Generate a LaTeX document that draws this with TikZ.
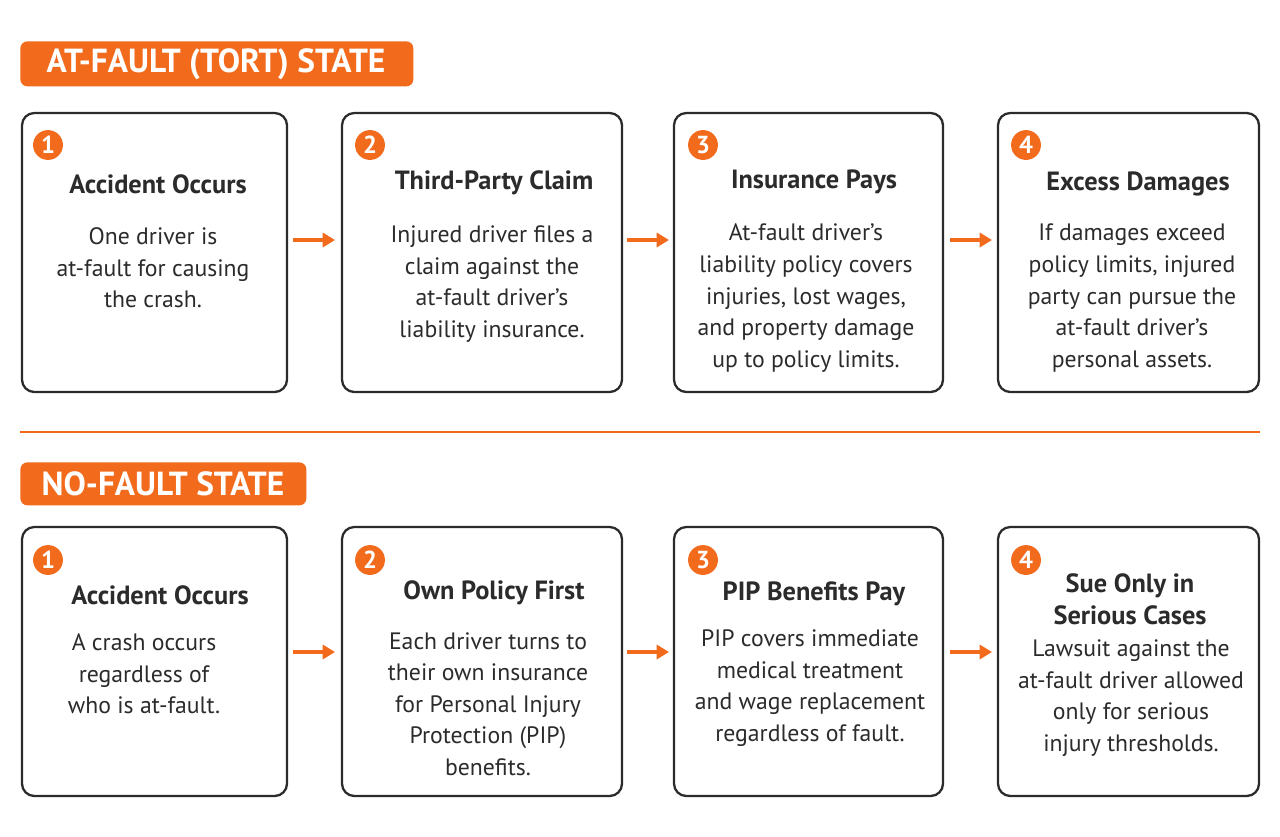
\documentclass[tikz,border=0pt]{standalone}
\usepackage{fontspec}
\setmainfont{PT Sans}
\usetikzlibrary{arrows.meta}
\definecolor{org}{HTML}{F26B1D}
\definecolor{dk}{HTML}{2B2B2B}
\begin{document}
\begin{tikzpicture}[x=0.02cm,y=-0.02cm,
  hdr/.style={fill=org,rounded corners=4pt,text=white,inner sep=0pt,anchor=north west},
  hdt/.style={font=\fontsize{19}{22}\selectfont\bfseries,text=white},
  box/.style={draw=dk,line width=1.3pt,rounded corners=7pt},
  num/.style={circle,fill=org,text=white,inner sep=0pt,minimum size=17pt,font=\fontsize{14}{14}\selectfont\bfseries},
  ttl/.style={font=\fontsize{15}{17}\selectfont\bfseries,text=dk,align=center},
  bod/.style={font=\fontsize{13.5}{18}\selectfont,text=dk,align=center},
  arr/.style={-{Triangle[length=7pt,width=8pt]},org,line width=2.2pt}]
\useasboundingbox (0,0) rectangle (1280,836);
\fill[white] (0,0) rectangle (1280,836);
\node[hdr,minimum width=393*0.02cm,minimum height=45*0.02cm] (h1) at (20,41) {};
\node[hdt] (h1t) at (216,64) {AT-FAULT (TORT) STATE};
\node[hdr,minimum width=286*0.02cm,minimum height=43*0.02cm] (h2) at (20,462) {};
\node[hdt] (h2t) at (163,484) {NO-FAULT STATE};
\coordinate (dl) at (20,432); \coordinate (dr) at (1260,432);
\draw[org,line width=1pt] (dl)--(dr);
\foreach \i/\a/\b in {1/22/287,2/342/622,3/674/943,4/998/1259}{
  \draw[box] (\a,113) rectangle (\b,392);
  \draw[box] (\a,527) rectangle (\b,796);
}
\node[num] (n11) at (48,145) {1};
\node[num] (n12) at (370,145) {2};
\node[num] (n13) at (703,145) {3};
\node[num] (n14) at (1026,145) {4};
\node[num] (n21) at (48,560) {1};
\node[num] (n22) at (370,560) {2};
\node[num] (n23) at (703,560) {3};
\node[num] (n24) at (1026,560) {4};
\node[ttl] (t11) at (158,184) {Accident Occurs};
\node[ttl] (t12) at (494,183) {Third-Party Claim};
\node[ttl] (t13) at (814,182) {Insurance Pays};
\node[ttl] (t14) at (1138,184) {Excess Damages};
\node[bod] (b11) at (153,268) {One driver is\\at-fault for causing\\the crash.};
\node[bod] (b12) at (492,284) {Injured driver files a\\claim against the\\at-fault driver’s\\liability insurance.};
\node[bod] (b13) at (806,298) {At-fault driver’s\\liability policy covers\\injuries, lost wages,\\and property damage\\up to policy limits.};
\node[bod] (b14) at (1132,298) {If damages exceed\\policy limits, injured\\party can pursue the\\at-fault driver’s\\personal assets.};
\node[ttl] (t21) at (160,595) {Accident Occurs};
\node[ttl] (t22) at (494,593) {Own Policy First};
\node[ttl] (t23) at (814,594) {PIP Benefits Pay};
\node[ttl,font=\fontsize{15}{18}\selectfont\bfseries] (t24) at (1130,599) {Sue Only in\\Serious Cases};
\node[bod] (b21) at (144,674) {A crash occurs\\regardless of\\who is at-fault.};
\node[bod] (b22) at (488,704) {Each driver turns to\\their own insurance\\for Personal Injury\\Protection (PIP)\\benefits.};
\node[bod] (b23) at (810,688) {PIP covers immediate\\medical treatment\\and wage replacement\\regardless of fault.};
\node[bod] (b24) at (1131,698) {Lawsuit against the\\at-fault driver allowed\\only for serious\\injury thresholds.};
\foreach \y/\r in {240/1,652/2}{
 \coordinate (a1\r) at (293,\y); \coordinate (a2\r) at (335,\y);
 \coordinate (c1\r) at (627,\y); \coordinate (c2\r) at (669,\y);
 \coordinate (e1\r) at (950,\y); \coordinate (e2\r) at (992,\y);
 \draw[arr] (a1\r)--(a2\r);
 \draw[arr] (c1\r)--(c2\r);
 \draw[arr] (e1\r)--(e2\r);
}
\end{tikzpicture}
\end{document}
